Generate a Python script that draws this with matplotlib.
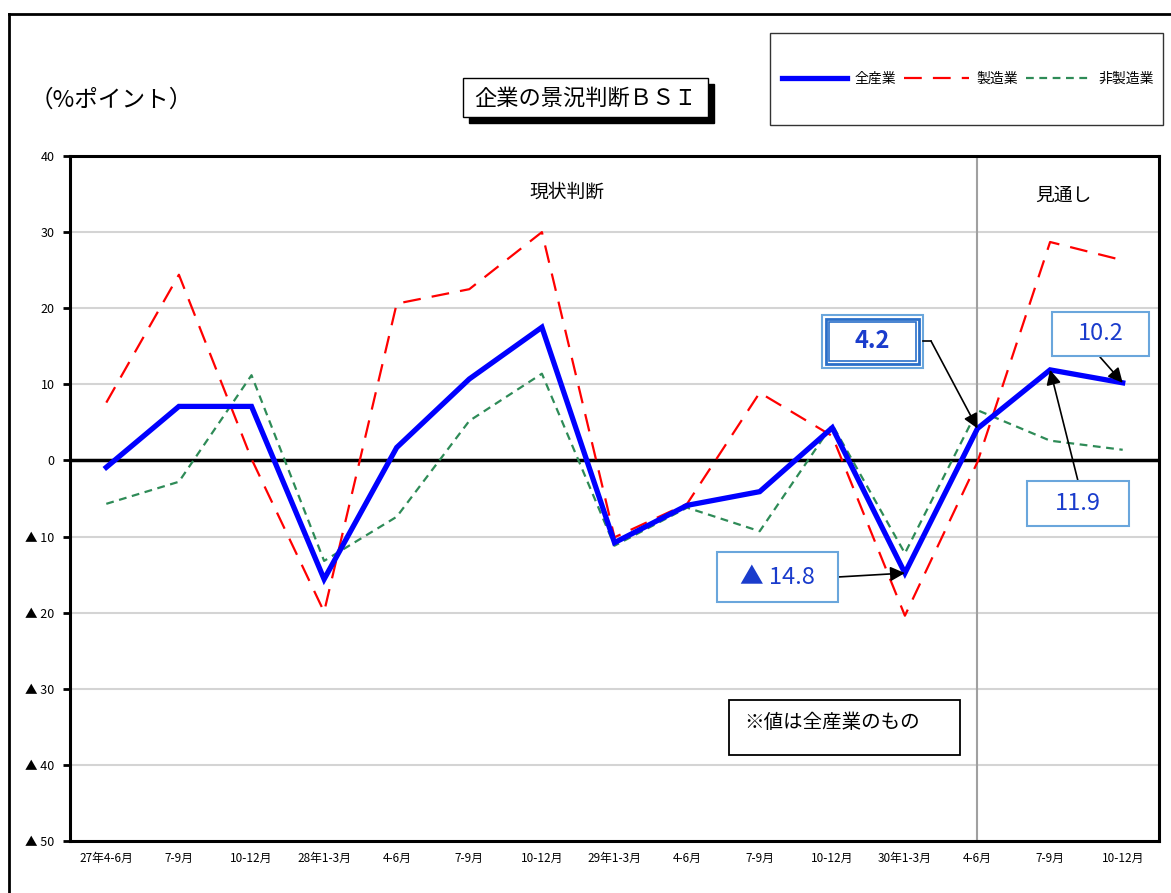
import matplotlib
matplotlib.use("Agg")
import matplotlib.pyplot as plt
from matplotlib.patches import Rectangle
from matplotlib.lines import Line2D

plt.rcParams['font.family'] = ['Noto Sans CJK JP', 'DejaVu Sans']

# data
categories = ['27年4-6月', '7-9月', '10-12月', '28年1-3月', '4-6月', '7-9月', '10-12月',
              '29年1-3月', '4-6月', '7-9月', '10-12月', '30年1-3月', '4-6月', '7-9月', '10-12月']
all_ind = [-0.9, 7.1, 7.1, -15.6, 1.7, 10.7, 17.5, -10.8, -5.9, -4.1, 4.3, -14.8, 4.2, 11.9, 10.2]
manuf = [7.6, 24.4, 0.2, -19.9, 20.6, 22.5, 30.0, -10.1, -5.7, 8.9, 3.2, -20.4, -0.2, 28.7, 26.3]
nonmanuf = [-5.7, -2.8, 11.2, -13.2, -7.4, 5.2, 11.4, -11.2, -6.2, -9.3, 4.7, -12.2, 6.6, 2.6, 1.4]
series_names = ['全産業', '製造業', '非製造業']
yticks = [40, 30, 20, 10, 0, -10, -20, -30, -40, -50]
split_idx = 12  # start of 見通し

W, H = 1171, 893
fig = plt.figure(figsize=(W / 100, H / 100), dpi=100)


def fx(px):
    return px / W


def fy(py):
    return 1 - py / H


ax = fig.add_axes([fx(70), fy(841), fx(1159) - fx(70), fy(156) - fy(841)])
x = list(range(len(categories)))

l1, = ax.plot(x, all_ind, color='#0000ff', lw=3.8, solid_joinstyle='miter', zorder=5)
l2, = ax.plot(x, manuf, color='#ff0000', lw=1.6, dashes=(8, 5), zorder=4)
l3, = ax.plot(x, nonmanuf, color='#2e8b57', lw=1.6, dashes=(3.5, 2.5), zorder=4)

ax.set_xlim(-0.5, len(categories) - 0.5)
ax.set_ylim(-50, 40)
ax.set_yticks(yticks)
ax.set_yticklabels(['▲ %d' % -v if v < 0 else '%d' % v for v in yticks], fontsize=9)
ax.set_xticks(x)
ax.set_xticklabels(categories, fontsize=8.5)
ax.tick_params(axis='x', length=0, pad=8)
ax.tick_params(axis='y', length=5, width=2, direction='out', pad=6)
ax.grid(axis='y', color='#d4d4d4', lw=1.5, zorder=0)
ax.axhline(0, color='black', lw=2.5, zorder=3)
ax.axvline(split_idx, color='#a0a0a0', lw=1.5, zorder=2)
for s in ax.spines.values():
    s.set_linewidth(2.2)

ax.text(0.456, 0.947, '現状判断', transform=ax.transAxes, ha='center', va='center', fontsize=13.5)
ax.text(0.912, 0.942, '見通し', transform=ax.transAxes, ha='center', va='center', fontsize=13.5)

# outer frame
fig.add_artist(Line2D([fx(9), fx(9)], [fy(14), 0], color='black', lw=2))
fig.add_artist(Line2D([fx(9), 1], [fy(14), fy(14)], color='black', lw=2))

fig.text(fx(30), fy(100), '（%ポイント）', fontsize=17, va='center', ha='left')

# title with shadow
fig.add_artist(Rectangle((fx(469), fy(123)), fx(245), 39 / H, transform=fig.transFigure,
                         fc='black', ec='black', zorder=6))
fig.add_artist(Rectangle((fx(463), fy(117)), fx(245), 39 / H, transform=fig.transFigure,
                         fc='white', ec='black', lw=1, zorder=7))
fig.text(fx(585), fy(98), '企業の景況判断ＢＳＩ', fontsize=16, ha='center', va='center', zorder=8)

# legend
fig.add_artist(Rectangle((fx(770), fy(125)), fx(393), 92 / H, transform=fig.transFigure,
                         fc='white', ec='#333333', lw=1, zorder=6))
leg = fig.legend([l1, l2, l3], series_names, loc='center', bbox_to_anchor=(fx(968), fy(79)),
                 ncol=3, frameon=False, fontsize=10, handlelength=4.7, handletextpad=0.5,
                 columnspacing=0.6)
leg.set_zorder(8)

# note box
fig.add_artist(Rectangle((fx(729), fy(755)), fx(231), 55 / H, transform=fig.transFigure,
                         fc='white', ec='black', lw=1.3, zorder=6))
fig.text(fx(744), fy(723), '※値は全産業のもの', fontsize=14, ha='left', va='center', zorder=8)

# value callouts for 全産業
lab_col = '#1a3ccc'
box_col = '#6aa6dc'


def callout(x0, y0, x1, y1, text, bold=False, double=False):
    fig.add_artist(Rectangle((fx(x0), fy(y1)), fx(x1 - x0), (y1 - y0) / H,
                             transform=fig.transFigure, fc='white', ec=box_col,
                             lw=1.5, zorder=6))
    if double:
        fig.add_artist(Rectangle((fx(x0 + 4), fy(y1 - 4)), fx(x1 - x0 - 8), (y1 - y0 - 8) / H,
                                 transform=fig.transFigure, fc='none', ec='#2a6fc9',
                                 lw=2, zorder=7))
        fig.add_artist(Rectangle((fx(x0 + 7), fy(y1 - 7)), fx(x1 - x0 - 14), (y1 - y0 - 14) / H,
                                 transform=fig.transFigure, fc='none', ec='#2a6fc9',
                                 lw=1.2, zorder=7))
    fig.text(fx((x0 + x1) / 2), fy((y0 + y1) / 2), text, fontsize=17, color=lab_col,
             ha='center', va='center', fontweight='bold' if bold else 'normal', zorder=8)


def arrow(idx, start):
    ax.annotate('', xy=(idx, all_ind[idx]), xycoords='data',
                xytext=(fx(start[0]), fy(start[1])), textcoords='figure fraction',
                arrowprops=dict(arrowstyle='-|>', color='black', lw=1.2, mutation_scale=22,
                                shrinkA=0, shrinkB=0),
                annotation_clip=False, zorder=9)


callout(822, 315, 923, 368, '4.2', bold=True, double=True)
fig.add_artist(Line2D([fx(923), fx(931)], [fy(341), fy(341)], color='black', lw=1.2, zorder=9))
arrow(12, (931, 341))

callout(1052, 312, 1149, 356, '10.2')
arrow(14, (1100, 357))

callout(1027, 481, 1129, 526, '11.9')
arrow(13, (1078, 481))

callout(717, 552, 838, 602, '▲ 14.8')
arrow(11, (838, 577))

fig.savefig('out.png', dpi=100)
